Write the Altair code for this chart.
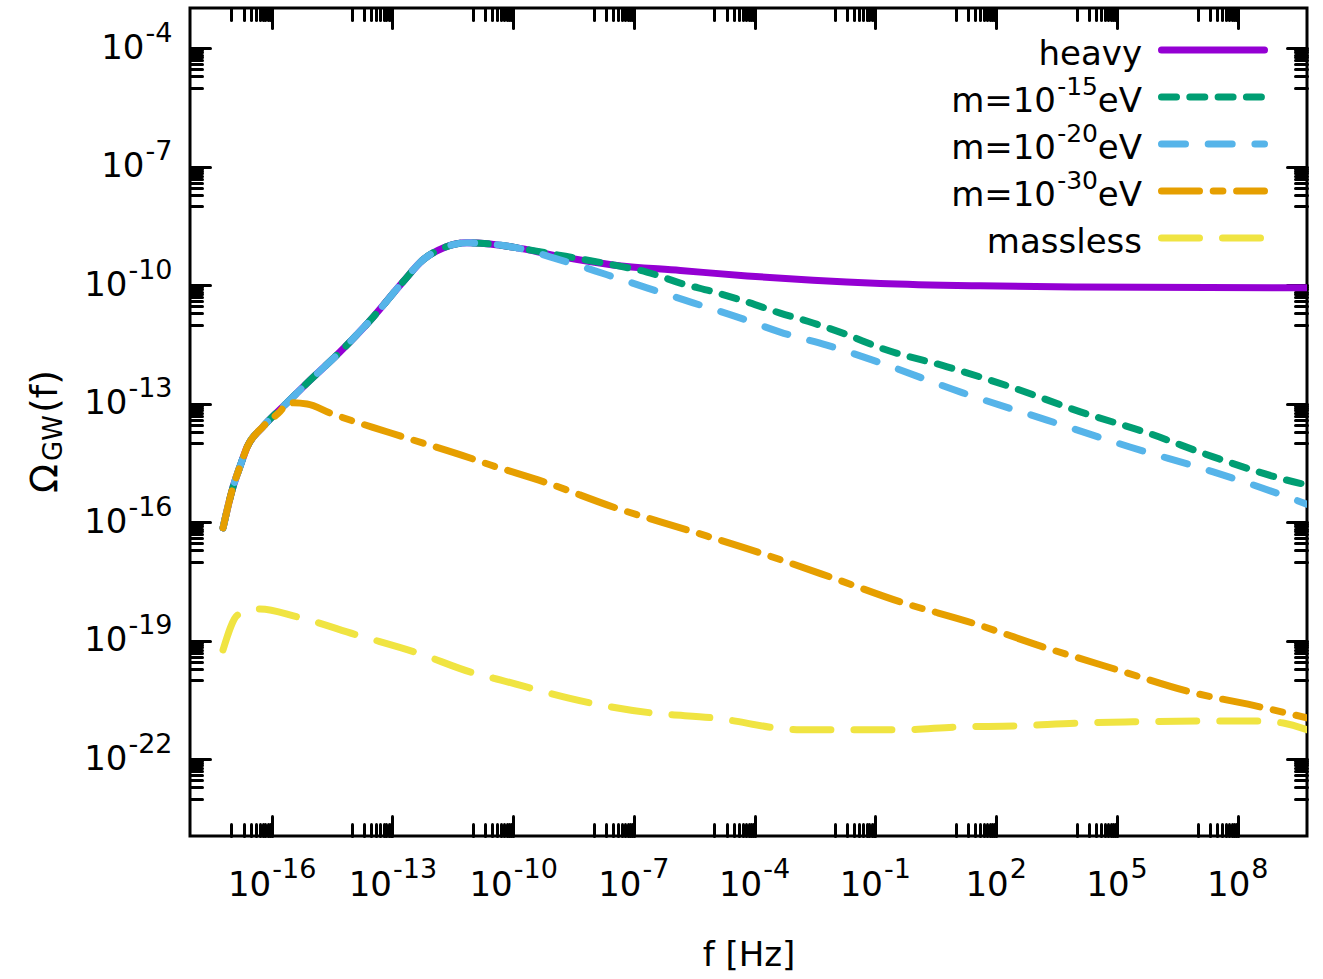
import altair as alt
import numpy as np
import pandas as pd

# ---------------- data (log10 values) ----------------
heavy_logf = [-17.21, -16.96, -16.79, -16.61, -16.22, -15.62, -15.12, -14.30, -13.48, -12.74,
              -12.24, -11.74, -11.15, -10.58, -10.00, -8.76, -7.52, -5.85, -4.19, -2.55,
              -0.88, 1.60, 4.09, 9.72]
heavy_logo = [-16.14, -15.10, -14.59, -14.09, -13.58, -12.97, -12.47, -11.68, -10.80, -9.91,
              -9.35, -9.05, -8.92, -8.95, -9.03, -9.28, -9.48, -9.62, -9.76, -9.87,
              -9.95, -10.01, -10.04, -10.06]

m15_logf = [-17.21, -16.96, -16.79, -16.61, -16.22, -15.62, -15.12, -14.30, -13.48, -12.74,
            -12.24, -11.74, -11.15, -10.58, -10.00, -9.16, -7.52, -6.68, -5.85, -5.03,
            -4.19, -3.37, -2.55, -1.70, -0.88, 0.78, 2.42, 4.09, 5.75, 7.39, 9.38, 9.72]
m15_logo = [-16.14, -15.10, -14.59, -14.09, -13.58, -12.97, -12.47, -11.68, -10.80, -9.91,
            -9.35, -9.05, -8.92, -8.95, -9.03, -9.18, -9.48, -9.66, -9.94, -10.16,
            -10.42, -10.70, -10.95, -11.25, -11.58, -12.06, -12.59, -13.20, -13.73, -14.34, -14.97, -15.05]

m20_logf = [-17.21, -16.96, -16.79, -16.61, -16.22, -15.62, -15.12, -14.30, -13.48, -12.74,
            -12.24, -11.74, -11.15, -10.58, -10.00, -8.84, -7.67, -6.68, -5.53, -4.37,
            -3.37, -2.21, -1.07, 1.17, 3.26, 5.32, 7.39, 9.30, 9.72]
m20_logo = [-16.14, -15.10, -14.59, -14.09, -13.58, -12.97, -12.47, -11.68, -10.80, -9.91,
            -9.35, -9.05, -8.92, -8.95, -9.03, -9.35, -9.73, -10.06, -10.44, -10.82,
            -11.18, -11.51, -11.89, -12.72, -13.41, -14.09, -14.72, -15.38, -15.54]

m30_logf = [-17.21, -16.96, -16.79, -16.61, -16.22, -15.84, -15.55, -15.12, -14.55, -13.06,
            -11.07, -10.58, -9.16, -7.52, -5.68, -3.87, -2.13, -0.39, 1.42, 3.16,
            5.00, 6.81, 8.55, 9.72]
m30_logo = [-16.14, -15.10, -14.59, -14.09, -13.58, -13.24, -12.97, -13.00, -13.23, -13.73,
            -14.37, -14.54, -15.00, -15.61, -16.19, -16.77, -17.38, -18.01, -18.55, -19.15,
            -19.73, -20.29, -20.67, -20.95]

massless_logf = [-17.21, -16.84, -16.29, -15.37, -13.88, -12.39, -10.99, -10.50, -8.09, -6.60,
                 -5.03, -2.87, -0.39, 1.03, 2.52, 4.01, 5.40, 7.07, 8.63, 9.13, 9.72]
massless_logo = [-19.23, -18.34, -18.19, -18.39, -18.85, -19.30, -19.81, -19.94, -20.57, -20.82,
                 -20.95, -21.25, -21.25, -21.18, -21.15, -21.08, -21.05, -21.03, -21.03, -21.08, -21.25]

series_names = ["heavy", "m15", "m20", "m30", "massless"]
legend_prefix = ["", "m=10", "m=10", "m=10", ""]
legend_sup = ["", "-15", "-20", "-30", ""]
legend_suffix = ["heavy", "eV", "eV", "eV", "massless"]

x_exps = [-16, -13, -10, -7, -4, -1, 2, 5, 8]
x_sup = ["-16", "-13", "-10", "-7", "-4", "-1", "2", "5", "8"]
y_exps = [-22, -19, -16, -13, -10, -7, -4]
y_sup = ["-22", "-19", "-16", "-13", "-10", "-7", "-4"]
tick_base = "10"
x_title = "f [Hz]"

x_domain_log = [-18.03, 9.72]
y_domain_log = [-23.94, -2.975]

# ---------------- styles ----------------
colors = ["#9400D3", "#009E73", "#56B4E9", "#E69F00", "#F0E442"]
dashes = [[1, 0], [15, 13.3], [24, 22.7], [38, 13.7, 9.7, 13.7], [38, 23]]
FONT = "DejaVu Sans"
FS = 34      # normal text
FSS = 27     # superscripts
W, H = 1117, 828
LW = 7


def frame(lf, lo):
    return pd.DataFrame({"f": 10.0 ** np.array(lf), "omega": 10.0 ** np.array(lo)})


series_data = {
    "heavy": frame(heavy_logf, heavy_logo),
    "m15": frame(m15_logf, m15_logo),
    "m20": frame(m20_logf, m20_logo),
    "m30": frame(m30_logf, m30_logo),
    "massless": frame(massless_logf, massless_logo),
}

xs = alt.Scale(type="log", domain=[10.0 ** x_domain_log[0], 10.0 ** x_domain_log[1]], nice=False)
ys = alt.Scale(type="log", domain=[10.0 ** y_domain_log[0], 10.0 ** y_domain_log[1]], nice=False)


def sup_expr(exps, sups):
    e = "round(log(datum.value)/LN10)"
    s = "''"
    for ex, lab in reversed(list(zip(exps, sups))):
        s = f"({e}=={ex}?'{lab}':{s})"
    return s


def in_range(vals, dom_log):
    lo, hi = 10.0 ** dom_log[0], 10.0 ** dom_log[1]
    return [v for v in vals if lo <= v <= hi]


x_major = in_range([10.0 ** e for e in x_exps], x_domain_log)
y_major = in_range([10.0 ** e for e in y_exps], y_domain_log)
x_minor = in_range([k * 10.0 ** (e - 1) for e in x_exps for k in range(1, 10)], x_domain_log)
y_minor = in_range([k * 10.0 ** (e - 1) for e in y_exps for k in range(1, 10)], y_domain_log)

# ---------------- curves ----------------
layers = []
for name, col, dash in zip(series_names, colors, dashes):
    kw = dict(color=col, strokeWidth=LW, strokeCap="round", strokeJoin="round",
              interpolate="monotone", clip=True)
    if name != "heavy":
        kw["strokeDash"] = dash
    layers.append(
        alt.Chart(series_data[name]).mark_line(**kw).encode(
            x=alt.X("f:Q", scale=xs, axis=None),
            y=alt.Y("omega:Q", scale=ys, axis=None),
        )
    )
main = alt.layer(*layers)


def dummy(xaxis, yaxis):
    return alt.Chart(series_data["heavy"]).mark_line(opacity=0).encode(
        x=alt.X("f:Q", scale=xs, axis=xaxis),
        y=alt.Y("omega:Q", scale=ys, axis=yaxis),
    )


# ---------------- inward ticks on all four sides ----------------
def tick_axis(orient, offset, values, size):
    return alt.Axis(orient=orient, offset=offset, values=values, labels=False,
                    domain=False, grid=False, ticks=True, tickSize=size, tickWidth=3,
                    tickColor="black", tickCap="round", title=None)


t1 = dummy(tick_axis("top", -H, x_major, 20), tick_axis("right", -W, y_major, 20))
t2 = dummy(tick_axis("bottom", -H, x_major, 20), tick_axis("left", -W, y_major, 20))
t3 = dummy(tick_axis("top", -H, x_minor, 12), tick_axis("right", -W, y_minor, 12))
t4 = dummy(tick_axis("bottom", -H, x_minor, 12), tick_axis("left", -W, y_minor, 12))


# ---------------- tick labels: "10" plus a raised exponent ----------------
def label_axis(orient, values, expr, size, align, padding, offset, baseline, title=None):
    kw = dict(orient=orient, values=values, labelExpr=expr, ticks=False, tickSize=0,
              domain=False, grid=False, labelFont=FONT, labelFontSize=size,
              labelColor="black", labelAlign=align, labelPadding=padding,
              labelOffset=offset, labelBaseline=baseline, labelFlush=False,
              labelOverlap=False)
    if title is None:
        kw["title"] = None
    else:
        kw.update(title=title, titleFont=FONT, titleFontSize=FS, titleFontWeight="normal",
                  titleColor="black", titlePadding=36)
    return alt.Axis(**kw)


x_off = {3: -1, 2: 7, 1: 12}           # "10" right edge relative to the tick
y_pad = {2: 46, 3: 63}                 # "10" right edge distance from the frame

xg = {n: [(e, s) for e, s in zip(x_exps, x_sup) if len(s) == n] for n in (3, 2, 1)}
yg = {n: [(e, s) for e, s in zip(y_exps, y_sup) if len(s) == n] for n in (2, 3)}


def xbase(n, title=None):
    vals = in_range([10.0 ** e for e, _ in xg[n]], x_domain_log)
    return label_axis("bottom", vals, f"'{tick_base}'", FS, "right", 32, x_off[n], "top", title)


def xexp(n):
    vals = in_range([10.0 ** e for e, _ in xg[n]], x_domain_log)
    return label_axis("bottom", vals, sup_expr([e for e, _ in xg[n]], [s for _, s in xg[n]]),
                      FSS, "left", 20, x_off[n] + 1, "top")


def ybase(n):
    vals = in_range([10.0 ** e for e, _ in yg[n]], y_domain_log)
    return label_axis("left", vals, f"'{tick_base}'", FS, "right", y_pad[n], 0, "middle")


yexp = label_axis("left", y_major, sup_expr(y_exps, y_sup), FSS, "right", 18, -15, "middle")

l1 = dummy(xbase(3, x_title), ybase(2))
l2 = dummy(xbase(2), ybase(3))
l3 = dummy(xbase(1), yexp)
l4 = dummy(xexp(3), None)
l5 = dummy(xexp(2), None)
l6 = dummy(xexp(1), None)

# ---------------- legend ----------------
leg_df = pd.DataFrame({"name": series_names, "prefix": legend_prefix,
                       "sup": legend_sup, "suffix": legend_suffix})
leg_y = alt.Scale(type="point", domain=series_names, range=[42, 230], padding=0)
leg_rule = alt.Chart(leg_df).mark_rule(strokeWidth=LW, strokeCap="round").encode(
    y=alt.Y("name:N", scale=leg_y, axis=None),
    x=alt.value(971.5), x2=alt.value(1074.5),
    color=alt.Color("name:N", scale=alt.Scale(domain=series_names, range=colors), legend=None),
    strokeDash=alt.StrokeDash("name:N", scale=alt.Scale(domain=series_names, range=dashes), legend=None),
)


def leg_text(field, xpix, size, dy):
    return alt.Chart(leg_df).mark_text(
        align="right", baseline="alphabetic", dy=dy, font=FONT, fontSize=size, color="black"
    ).encode(
        y=alt.Y("name:N", scale=leg_y, axis=None),
        x=alt.value(xpix),
        text=f"{field}:N",
    )


legend = alt.layer(leg_rule, leg_text("suffix", 952, FS, 15),
                   leg_text("sup", 908, 25, -2), leg_text("prefix", 866, FS, 15))


# ---------------- y title: Omega_GW(f) ----------------
def ytxt(t, size, xpix, ypix):
    return alt.Chart(pd.DataFrame({"t": [t]})).mark_text(
        angle=270, align="left", baseline="alphabetic", font=FONT, fontSize=size, color="black"
    ).encode(text="t:N", x=alt.value(xpix), y=alt.value(ypix))


ytitle = alt.layer(
    ytxt("Ω", 38, -133, 485),
    ytxt("GW", 26, -128, 453),
    ytxt("(f)", 38, -133, 405),
)

chart = (
    alt.layer(main, t1, t2, t3, t4, l1, l2, l3, l4, l5, l6, legend, ytitle)
    .resolve_scale(x="independent", y="independent")
    .properties(
        width=W, height=H,
        padding={"left": 190, "top": 8, "right": 16, "bottom": 143},
        autosize=alt.AutoSizeParams(type="none"),
        background="white",
    )
    .configure_view(stroke="black", strokeWidth=3)
)

chart.save("out.html", embed_options={"renderer": "svg", "actions": False})
